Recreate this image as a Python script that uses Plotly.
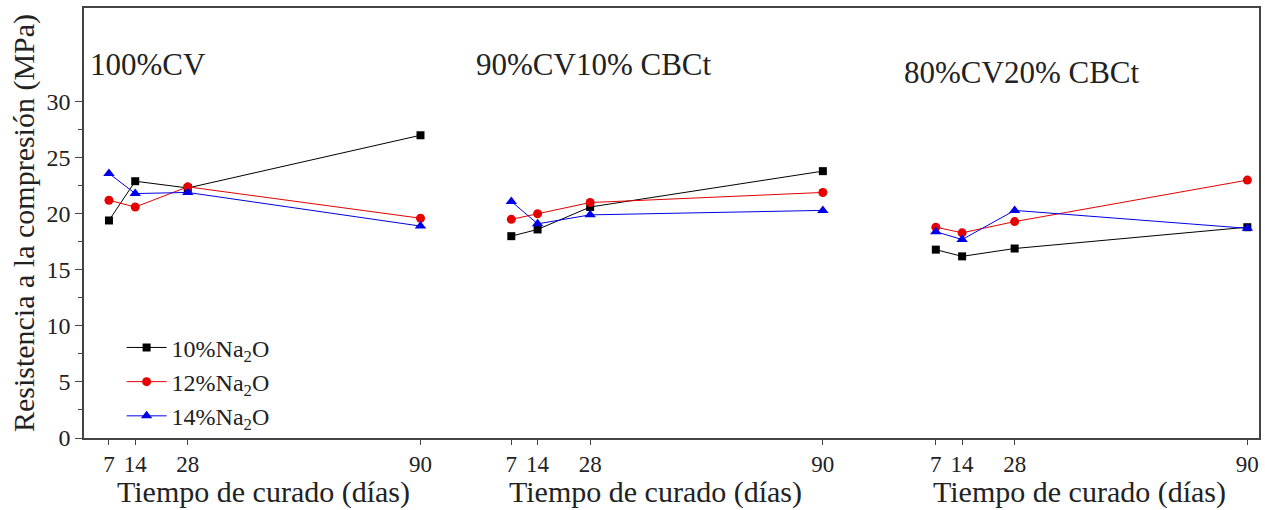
import plotly.graph_objects as go

# Curing times (days) and compressive strength (MPa) per mix and Na2O dosage
dias = [7, 14, 28, 90]
mezclas = ["100%CV", "90%CV10% CBCt", "80%CV20% CBCt"]
series = ["10%Na<sub>2</sub>O", "12%Na<sub>2</sub>O", "14%Na<sub>2</sub>O"]

na10 = [[19.4, 22.9, 22.3, 27.0], [18.0, 18.6, 20.6, 23.8], [16.8, 16.2, 16.9, 18.8]]
na12 = [[21.2, 20.6, 22.4, 19.6], [19.5, 20.0, 21.0, 21.9], [18.8, 18.3, 19.3, 23.0]]
na14 = [[23.6, 21.8, 21.9, 18.9], [21.1, 19.1, 19.9, 20.3], [18.4, 17.7, 20.3, 18.7]]

yticks = [0, 5, 10, 15, 20, 25, 30]

# horizontal shift of each mix panel on the shared day axis
offsets = [0, 107.2, 220.3]

FONT = "Liberation Serif"
styles = [
    dict(color="black", symbol="square", size=8),
    dict(color="#e60000", symbol="circle", size=9),
    dict(color="#0000e6", symbol="triangle-up", size=10),
]

fig = go.Figure()
for name, vals, st in zip(series, [na10, na12, na14], styles):
    for g, off in enumerate(offsets):
        fig.add_trace(go.Scatter(
            x=[d + off for d in dias], y=vals[g],
            mode="lines+markers", name=name,
            legendgroup=name, showlegend=(g == 0),
            line=dict(color=st["color"], width=1),
            marker=dict(color=st["color"], symbol=st["symbol"], size=st["size"]),
        ))

tickvals = [d + off for off in offsets for d in dias]
ticktext = [str(d) for _ in offsets for d in dias]

fig.update_layout(
    width=1265, height=510,
    margin=dict(l=84, r=4, t=8, b=72),
    paper_bgcolor="white", plot_bgcolor="white",
    font=dict(family=FONT, size=24, color="#222"),
    showlegend=True,
    legend=dict(x=0.032, y=0.262, xanchor="left", yanchor="top",
                bgcolor="rgba(0,0,0,0)", font=dict(size=24, family=FONT),
                itemwidth=40, tracegroupgap=0),
    xaxis=dict(range=[0.35, 313.4], tickvals=tickvals, ticktext=ticktext,
               ticks="outside", ticklen=5, tickcolor="#444",
               showline=True, linecolor="#444", linewidth=1.5, mirror=True,
               showgrid=False, zeroline=False,
               tickfont=dict(size=23, family=FONT)),
    yaxis=dict(range=[0, 38.35], tickvals=yticks,
               ticks="outside", ticklen=7, tickcolor="#444",
               minor=dict(tickvals=[2.5 + 5 * i for i in range(6)],
                          ticks="outside", ticklen=4, tickcolor="#444"),
               showline=True, linecolor="#444", linewidth=1.5, mirror=True,
               showgrid=False, zeroline=False,
               tickfont=dict(size=24, family=FONT),
               title=dict(text="Resistencia a la compresión (MPa)",
                          font=dict(size=30, family=FONT), standoff=3)),
)

# panel labels
label_pos = [(88, 64), (475, 64), (903, 72)]
W, H = 1177, 430
for text, (px, py) in zip(mezclas, label_pos):
    fig.add_annotation(text=text, xref="paper", yref="paper",
                       x=(px - 84) / W, y=(438 - py) / H,
                       xanchor="left", yanchor="middle", showarrow=False,
                       font=dict(size=31, family=FONT, color="#222"))

# x-axis titles under each panel
for cx in [264, 656, 1081]:
    fig.add_annotation(text="Tiempo de curado (días)", xref="paper", yref="paper",
                       x=(cx - 84) / W, y=(438 - 492) / H,
                       xanchor="center", yanchor="middle", showarrow=False,
                       font=dict(size=30, family=FONT, color="#222"))

fig.write_html("out.html")
